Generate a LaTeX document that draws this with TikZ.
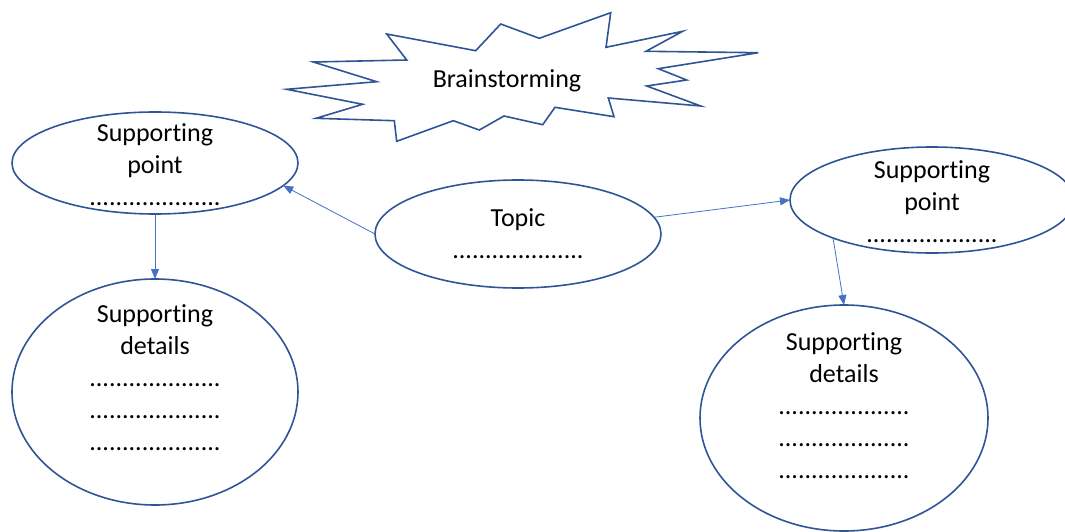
\documentclass[tikz,border=0pt]{standalone}
\usepackage{fontspec}
\setmainfont{Carlito}[Ligatures=NoCommon]
\usetikzlibrary{shapes.geometric,arrows.meta}
\definecolor{shapeblue}{HTML}{2F5597}
\definecolor{arrowblue}{HTML}{4472C4}
\newcommand{\dotrow}{....................}
\begin{document}
\begin{tikzpicture}[x=1pt,y=-1pt]
\tikzset{ >={Triangle[length=10pt,width=8pt]},
  bubble/.style={draw=shapeblue, line width=1.6pt, ellipse, inner sep=0pt, outer sep=0pt},
  words/.style={align=center, font=\fontsize{26}{32}\selectfont, inner sep=0pt, anchor=base},
  link/.style={->, arrowblue, line width=0.8pt},
}
\useasboundingbox (0,0) rectangle (1065,532);

% the burst
\draw [shapeblue, line width=1.6pt] (386.7,34) -- (406.7,60) -- (313.3,62) -- (376.7,81.7)
  -- (286.7,89.3) -- (362.7,104.3) -- (316,118.3) -- (394.3,120.7) -- (396.7,141.3)
  -- (453.3,120.7) -- (479.3,130) -- (504,116) -- (542.7,124.7) -- (555,107.3)
  -- (614,116.7) -- (608.3,98) -- (700.7,106) -- (646.7,86) -- (686.7,80)
  -- (658.3,68.7) -- (758.3,52.7) -- (646,51.3) -- (682.7,31.3) -- (606,47.3)
  -- (610.7,12.7) -- (539.3,38.3) -- (500.7,24) -- (475.7,50.7) -- cycle;
\node [words] (B) at (507,88) {Brainstorming};

\node [bubble, minimum width=286, minimum height=102] (PL) at (155,163) {};
\node [bubble, minimum width=286, minimum height=226] (DL) at (155,392) {};
\node [bubble, minimum width=286, minimum height=108] (T)  at (518,234) {};
\node [bubble, minimum width=284, minimum height=106] (PR) at (932,200) {};
\node [bubble, minimum width=288, minimum height=226] (DR) at (844,418) {};

% last baseline of each block
\node [words] (tPL) at (155,205) {Supporting\\point\\\dotrow};
\node [words] (tDL) at (155,450) {Supporting\\details\\\dotrow\\\dotrow\\\dotrow};
\node [words] (tT)  at (518,258) {Topic\\\dotrow};
\node [words] (tPR) at (932,242) {Supporting\\point\\\dotrow};
\node [words] (tDR) at (844,478) {Supporting\\details\\\dotrow\\\dotrow\\\dotrow};

\draw [link] (T.west) -- (PL.-10.5);
\draw [link] (T.7)    -- (PR.west);
\draw [link] (PL.south) -- (DL.north);
\draw [link] (PR.201)   -- (DR.north);
\end{tikzpicture}
\end{document}
